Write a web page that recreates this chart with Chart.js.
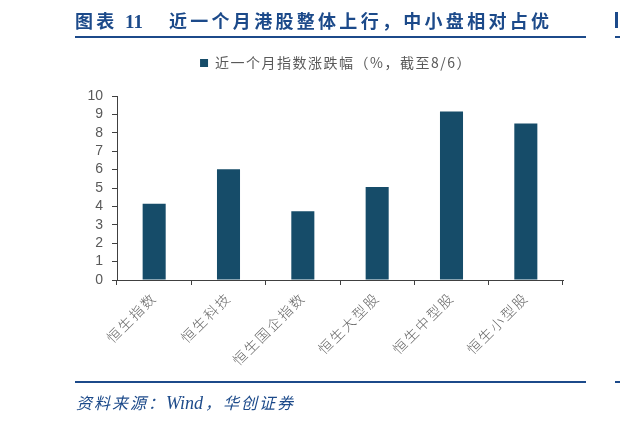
<!DOCTYPE html>
<html>
<head>
<meta charset="utf-8">
<script src="https://cdn.jsdelivr.net/npm/chart.js@4.4.1/dist/chart.umd.min.js"></script>
<style>
  html, body { margin:0; padding:0; background:#fff; }
  #wrap { position:relative; width:620px; height:423px; overflow:hidden; }
  #c { position:absolute; left:0; top:0; }
  .title { position:absolute; left:75px; top:6px; font-family:"Noto Sans CJK SC"; font-weight:bold; font-size:18px; color:#1C4A8A; white-space:nowrap; letter-spacing:3.3px; line-height:28px; }
  .title .num { font-family:"Liberation Serif"; font-size:19px; letter-spacing:0; }
  .title .rest { margin-left:26px; }
  .line { position:absolute; height:2px; background:#1C4A8A; }
  .src { position:absolute; left:76px; top:391px; font-family:"Noto Sans CJK SC"; font-style:italic; font-size:16px; color:#1C4A8A; white-space:nowrap; line-height:22px; letter-spacing:2px; }
  .src .w { font-family:"Liberation Serif"; font-size:18px; letter-spacing:0; margin-right:2px; }
</style>
</head>
<body>
<div id="wrap">
  <canvas id="c" width="620" height="423"></canvas>
  <div class="title">图表 <span class="num">11</span><span class="rest">近一个月港股整体上行，中小盘相对占优</span></div>
  <div class="line" style="left:75px;top:36px;width:511px;"></div>
  <div class="line" style="left:615px;top:36px;width:5px;"></div>
  <div class="line" style="left:615px;top:12px;width:3px;height:16px;"></div>
  <div class="line" style="left:75px;top:381px;width:511px;"></div>
  <div class="line" style="left:615px;top:381px;width:5px;"></div>
  <div class="src">资料来源：<span class="w">Wind</span>，华创证券</div>
</div>
<script>
const categories = ["恒生指数", "恒生科技", "恒生国企指数", "恒生大型股", "恒生中型股", "恒生小型股"];
const seriesName = "近一个月指数涨跌幅（%，截至8/6）";
const values = [4.15, 6.02, 3.73, 5.05, 9.16, 8.5];
const yTicks = [0, 1, 2, 3, 4, 5, 6, 7, 8, 9, 10];

function withSpacing(obj, method, sp, opts) {
  if (!obj || obj['__sp_' + method]) return;
  const orig = obj[method];
  obj['__sp_' + method] = true;
  obj[method] = function (...args) {
    const ctx = this.ctx;
    const prev = ctx.letterSpacing;
    ctx.save();
    ctx.letterSpacing = sp;
    if (opts && opts.dx) ctx.translate(opts.dx, 0);
    try { return orig.apply(this, args); }
    finally {
      ctx.restore();
      ctx.letterSpacing = prev;
      if (opts && opts.after) opts.after.call(this);
    }
  };
}

const spacingPlugin = {
  id: 'spacing',
  afterInit(chart) {
    withSpacing(chart.legend, 'fit', '1.5px', { after: function () { this.height += 16; } });
    withSpacing(chart.legend, 'draw', '1.5px', { dx: 16 });
  },
  beforeLayout(chart) {
    withSpacing(chart.scales.x, 'draw', '2px');
  }
};

new Chart(document.getElementById('c'), {
  type: 'bar',
  data: {
    labels: categories,
    datasets: [{
      label: seriesName,
      data: values,
      backgroundColor: '#164C69',
      borderWidth: 0,
      barPercentage: 0.31,
      categoryPercentage: 1.0
    }]
  },
  plugins: [spacingPlugin],
  options: {
    responsive: false,
    animation: false,
    devicePixelRatio: 1,
    layout: { padding: { left: 77, right: 57, top: 46, bottom: 23 } },
    plugins: {
      tooltip: { enabled: false },
      legend: {
        position: 'top',
        labels: {
          boxWidth: 8, boxHeight: 8, padding: 10,
          color: '#595959',
          font: { family: 'Noto Sans CJK SC', size: 14 }
        }
      }
    },
    scales: {
      y: {
        min: 0, max: 10,
        afterBuildTicks: (s) => { s.ticks = yTicks.map(v => ({ value: v })); },
        afterFit: (s) => { s.width = 40; },
        border: { display: true, color: '#404040', width: 1 },
        grid: { drawOnChartArea: false, drawTicks: true, tickLength: 5, color: '#404040' },
        ticks: { color: '#595959', padding: 9, autoSkip: false, font: { family: 'Liberation Sans', size: 14 } }
      },
      x: {
        afterFit: (s) => { s.height = 120; },
        border: { display: true, color: '#404040', width: 1 },
        grid: { offset: true, drawOnChartArea: false, drawTicks: true, tickLength: 5, color: '#404040' },
        ticks: { color: '#666666', maxRotation: 45, minRotation: 45, padding: 4, autoSkip: false, font: { family: 'Noto Sans CJK SC', size: 14, weight: '300' } }
      }
    }
  }
});
</script>
</body>
</html>
